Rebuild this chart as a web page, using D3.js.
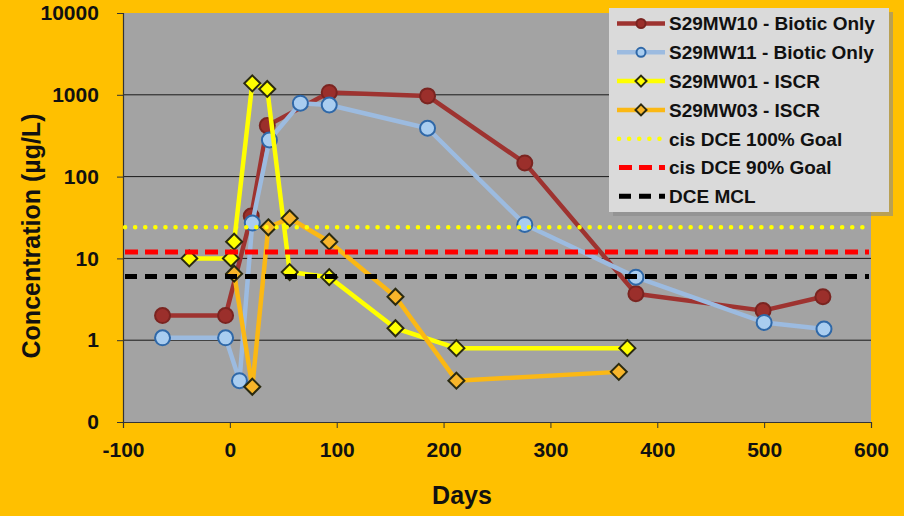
<!DOCTYPE html>
<html>
<head>
<meta charset="utf-8">
<script src="https://cdn.jsdelivr.net/npm/d3@7"></script>
<style>
  html, body { margin: 0; padding: 0; background: #FFC000; }
  svg { display: block; font-family: Arial, "Liberation Sans", sans-serif; }
</style>
</head>
<body>
<svg id="chart" width="904" height="516"></svg>
<script>
// Sampling days and concentrations (µg/L) per monitoring well
const daysMW10 = [-63, -4, 20, 35, 93, 185, 276, 380, 499, 555];
const concMW10 = [2.0, 2.0, 33, 420, 1070, 970, 147, 3.7, 2.3, 3.4];

const daysMW11 = [-63, -4, 9, 21, 37, 66, 93, 185, 276, 380, 500, 556];
const concMW11 = [1.07, 1.07, 0.32, 27, 280, 790, 750, 390, 26, 5.9, 1.65, 1.37];

const daysMW01 = [-38, 1, 4, 21, 35, 56, 93, 155, 212, 372];
const concMW01 = [10, 10, 16, 1380, 1180, 6.8, 5.9, 1.4, 0.8, 0.8];

const daysMW03 = [4, 21, 36, 56, 93, 155, 212, 364];
const concMW03 = [6.5, 0.27, 24, 31, 16, 3.4, 0.32, 0.41];

// Regulatory reference levels (µg/L)
const goal100 = 24;
const goal90 = 12;
const dceMCL = 6;

const seriesNames = ["S29MW10 - Biotic Only", "S29MW11 - Biotic Only", "S29MW01 - ISCR", "S29MW03 - ISCR",
                     "cis DCE 100% Goal", "cis DCE 90% Goal", "DCE MCL"];

// Axis ticks
const xTicks = [-100, 0, 100, 200, 300, 400, 500, 600];
const yTicks = [0.1, 1, 10, 100, 1000, 10000];
const yTickLabels = ["0", "1", "10", "100", "1000", "10000"];

const svg = d3.select("#chart");
const L = 123, R = 871, T = 13, B = 422;

const x = d3.scaleLinear().domain([-100, 600]).range([L, R]);
const y = d3.scaleLog().domain([0.1, 10000]).range([B, T]);

// page background
svg.append("rect").attr("width", 904).attr("height", 516).attr("fill", "#FFC000");

// plot area
svg.append("rect").attr("x", L).attr("y", T).attr("width", R - L).attr("height", B - T).attr("fill", "#a3a3a3");

// horizontal gridlines at each decade
svg.append("g").selectAll("line").data(yTicks.slice(1, -1)).join("line")
  .attr("x1", L).attr("x2", R)
  .attr("y1", d => y(d)).attr("y2", d => y(d))
  .attr("stroke", "#1a1a1a").attr("stroke-width", 1);

// axes
const yAxis = svg.append("g").attr("transform", `translate(${L},0)`)
  .call(d3.axisLeft(y).tickValues(yTicks).tickSize(6).tickPadding(16)
    .tickFormat((d, i) => yTickLabels[i]));
const xAxis = svg.append("g").attr("transform", `translate(0,${B})`)
  .call(d3.axisBottom(x).tickValues(xTicks).tickSize(6).tickPadding(14).tickFormat(d => String(d)));

[yAxis, xAxis].forEach(a => {
  a.select(".domain").attr("stroke", "#333").attr("stroke-width", 1.2);
  a.selectAll(".tick line").attr("stroke", "#333");
  a.selectAll(".tick text").attr("fill", "#111").attr("font-size", 21).attr("font-weight", "bold")
    .attr("font-family", "Arial, 'Liberation Sans', sans-serif");
});
yAxis.selectAll(".tick text").attr("dx", "-0.1em");

// axis titles
svg.append("text").attr("x", 462).attr("y", 504).attr("text-anchor", "middle")
  .attr("font-size", 25).attr("font-weight", "bold").attr("fill", "#111").text("Days");
svg.append("text").attr("transform", "translate(40,236) rotate(-90)").attr("text-anchor", "middle")
  .attr("font-size", 25).attr("font-weight", "bold").attr("fill", "#111").text("Concentration (µg/L)");

const line = d3.line().x(d => x(d[0])).y(d => y(d[1]));
const zip = (a, b) => a.map((d, i) => [d, b[i]]);

const styles = [
  { days: daysMW10, conc: concMW10, stroke: "#9e3330", marker: "circle", fill: "#9b2f2b", mstroke: "#7a2420" },
  { days: daysMW11, conc: concMW11, stroke: "#9cbbe0", marker: "circle", fill: "#a9cdf0", mstroke: "#2f68a8" },
  { days: daysMW01, conc: concMW01, stroke: "#ffff00", marker: "diamond", fill: "#ffff00", mstroke: "#2a2a10" },
  { days: daysMW03, conc: concMW03, stroke: "#fbb814", marker: "diamond", fill: "#f7b52a", mstroke: "#2a2a10" }
];

const diamond = (cx, cy, r) => `M${cx},${cy - r}L${cx + r},${cy}L${cx},${cy + r}L${cx - r},${cy}Z`;

function drawMarker(g, kind, cx, cy, s, size) {
  if (kind === "circle") {
    g.append("circle").attr("cx", cx).attr("cy", cy).attr("r", size)
      .attr("fill", s.fill).attr("stroke", s.mstroke).attr("stroke-width", 2);
  } else {
    g.append("path").attr("d", diamond(cx, cy, size))
      .attr("fill", s.fill).attr("stroke", s.mstroke).attr("stroke-width", 2);
  }
}

styles.forEach(s => {
  const g = svg.append("g");
  const pts = zip(s.days, s.conc);
  g.append("path").attr("d", line(pts)).attr("fill", "none")
    .attr("stroke", s.stroke).attr("stroke-width", 4.5).attr("stroke-linejoin", "round");
  pts.forEach(p => drawMarker(g, s.marker, x(p[0]), y(p[1]), s, s.marker === "circle" ? 7.5 : 8));
});

// reference levels
const refs = [
  { v: goal100, stroke: "#ffff00", dash: "0.1 10", cap: "round", w: 4.5 },
  { v: goal90, stroke: "#ff0000", dash: "13 7", cap: "butt", w: 5 },
  { v: dceMCL, stroke: "#000000", dash: "12 8", cap: "butt", w: 5 }
];
refs.forEach(r => {
  svg.append("line").attr("x1", L + 2).attr("x2", R - 2).attr("y1", y(r.v)).attr("y2", y(r.v))
    .attr("stroke", r.stroke).attr("stroke-width", r.w).attr("stroke-dasharray", r.dash)
    .attr("stroke-linecap", r.cap);
});

// legend
const lg = svg.append("g");
lg.append("rect").attr("x", 613).attr("y", 12).attr("width", 280).attr("height", 204).attr("fill", "#8a8a8a").attr("opacity", 0.6);
lg.append("rect").attr("x", 609).attr("y", 8).attr("width", 280).attr("height", 204).attr("fill", "#dadada");
const ly0 = 23.5, lstep = 28.8, lx1 = 617, lx2 = 665;
seriesNames.forEach((name, i) => {
  const cy = ly0 + i * lstep;
  if (i < 4) {
    const s = styles[i];
    lg.append("line").attr("x1", lx1).attr("x2", lx2).attr("y1", cy).attr("y2", cy)
      .attr("stroke", s.stroke).attr("stroke-width", 4.5);
    drawMarker(lg, s.marker, (lx1 + lx2) / 2, cy, s, s.marker === "circle" ? 4.5 : 5.5);
  } else {
    const r = refs[i - 4];
    lg.append("line").attr("x1", lx1 + 2).attr("x2", lx2).attr("y1", cy).attr("y2", cy)
      .attr("stroke", r.stroke).attr("stroke-width", r.w).attr("stroke-dasharray", r.dash)
      .attr("stroke-linecap", r.cap);
  }
  lg.append("text").attr("x", 669).attr("y", cy).attr("dy", "0.36em")
    .attr("font-size", 19).attr("font-weight", "bold").attr("fill", "#111").text(name);
});
</script>
</body>
</html>
